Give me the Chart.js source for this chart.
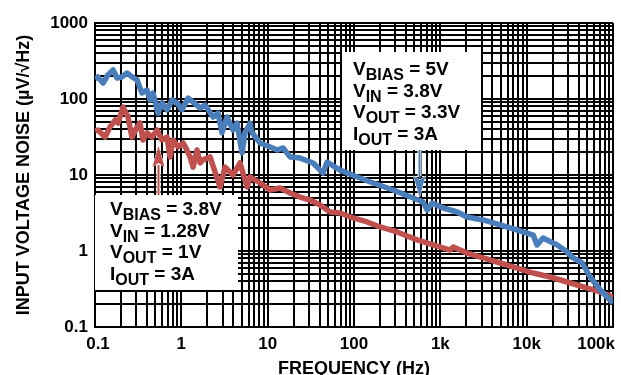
<!DOCTYPE html>
<html>
<head>
<meta charset="utf-8">
<script src="https://cdn.jsdelivr.net/npm/chart.js@4.4.1/dist/chart.umd.min.js"></script>
<style>
  html, body { margin: 0; padding: 0; background: #fff; }
</style>
</head>
<body>
<canvas id="noiseChart" width="621" height="375"></canvas>
<script>
// ── Data ───────────────────────────────────────────────────────
// VBIAS = 5V, VIN = 3.8V, VOUT = 3.3V (blue)
const blueFreq  = [0.1, 0.108, 0.124, 0.141, 0.162, 0.18, 0.206, 0.235, 0.268, 0.307,
                   0.35, 0.4, 0.434, 0.47, 0.537, 0.597, 0.683, 0.78, 0.892, 1.02,
                   1.2, 1.37, 1.65, 1.88, 2.33, 2.66, 2.96, 3.38, 3.97, 4.42,
                   5.05, 5.47, 6.25, 6.6, 8.17, 10.7, 12.9, 15.1, 18.2, 23.7,
                   33.6, 43.8, 48.8, 69, 109, 167, 284, 484, 632, 703,
                   804, 1080, 1570, 2040, 3130, 4930, 7760, 11900, 13200, 15500,
                   22600, 29500, 34600, 44000, 54400, 71100, 100000];
const blueNoise = [183, 195, 162, 207, 241, 189, 195, 220, 195, 178,
                   120, 131, 97, 120, 65, 89, 72, 97, 89, 72,
                   103, 91, 76, 83, 58, 65, 36, 58, 39, 48,
                   19.5, 36, 48, 36, 26.4, 23.4, 21.3, 22.7, 17.3, 16.7,
                   14.4, 10.6, 14.8, 11.6, 9.4, 7.85, 6.35, 4.98, 4.41, 3.46,
                   4.28, 3.68, 3.26, 2.8, 2.56, 2.2, 1.89, 1.62, 1.2, 1.48,
                   1.2, 0.97, 0.81, 0.695, 0.455, 0.307, 0.207];

// VBIAS = 3.8V, VIN = 1.28V, VOUT = 1V (red)
const redFreq   = [0.1, 0.108, 0.131, 0.149, 0.171, 0.185, 0.211, 0.241, 0.268, 0.307,
                   0.332, 0.36, 0.4, 0.458, 0.523, 0.597, 0.683, 0.74, 0.801, 0.916,
                   1.05, 1.16, 1.26, 1.37, 1.52, 1.65, 1.78, 2.15, 2.81, 3.21,
                   3.97, 4.79, 5.77, 6.25, 8.17, 10.7, 13.9, 18.2, 23.7, 31,
                   40.5, 52.9, 69, 97.6, 142, 201, 316, 538, 825, 1300,
                   1410, 2040, 3130, 4930, 7760, 11900, 18700, 29500, 45200, 71100,
                   100000];
const redNoise  = [37.9, 39.1, 31.6, 42.8, 52.9, 48.3, 78.5, 58, 31.6, 42.8,
                   48.3, 28.9, 35.7, 31.6, 39.1, 28.9, 31.6, 17.3, 28.9, 23.4,
                   26.4, 21.3, 17.3, 12.7, 21.3, 14.4, 15.8, 17.3, 6.95, 12.7,
                   10, 14.4, 6.95, 9.41, 7.85, 6.35, 6.74, 5.8, 5.13, 4.69,
                   4.03, 3.26, 3.16, 2.72, 2.41, 2.07, 1.78, 1.4, 1.2, 1.03,
                   1.13, 0.941, 0.809, 0.695, 0.597, 0.513, 0.455, 0.391, 0.336, 0.289,
                   0.248];

const xMajor      = [0.1, 1, 10, 100, 1000, 10000, 100000];
const xTickLabels = ['0.1', '1', '10', '100', '1k', '10k', '100k'];
const yMajor      = [0.1, 1, 10, 100, 1000];
const yTickLabels = ['0.1', '1', '10', '100', '1000'];

const BLUE = '#4a7ebb';
const RED  = '#c0504d';
const FONT = '"Liberation Sans", Arial, sans-serif';

Chart.defaults.font.family = FONT;
Chart.defaults.color = '#000';

// 1..9 grid lines per decade
const gridTicks = (majors) => {
    const out = [];
    majors.forEach((m, i) => {
        if (i === majors.length - 1) { out.push({ value: m }); return; }
        for (let k = 1; k <= 9; k++) out.push({ value: +(m * k).toPrecision(3) });
    });
    return out;
};

const sameVal = (a, b) => Math.abs(a - b) <= Math.abs(b) * 1e-6;

// ── Annotation boxes (white, over the grid) ─────────────────────
const notes = [
    { box: [342, 52, 481, 150], x: 353, y: 75,
      lines: [['V', 'BIAS', ' = 5V'], ['V', 'IN', ' = 3.8V'], ['V', 'OUT', ' = 3.3V'], ['I', 'OUT', ' = 3A']] },
    { box: [95, 195, 238, 290], x: 110, y: 215,
      lines: [['V', 'BIAS', ' = 3.8V'], ['V', 'IN', ' = 1.28V'], ['V', 'OUT', ' = 1V'], ['I', 'OUT', ' = 3A']] }
];
const arrows = [
    { x: 419.5, from: 150, tip: 197, head: 21, color: BLUE },
    { x: 158.5, from: 195, tip: 146, head: 21, color: RED }
];

const notesPlugin = {
    id: 'notes',
    beforeDatasetsDraw(chart) {
        const ctx = chart.ctx;
        ctx.save();
        notes.forEach(n => {
            const [x0, y0, x1, y1] = n.box;
            ctx.fillStyle = '#fff';
            ctx.fillRect(x0, y0, x1 - x0, y1 - y0);
            ctx.fillStyle = '#000';
            ctx.textBaseline = 'alphabetic';
            ctx.textAlign = 'left';
            n.lines.forEach((parts, i) => {
                const by = n.y + i * 21.5;
                let x = n.x;
                ctx.font = 'bold 19px ' + FONT;
                ctx.fillText(parts[0], x, by);
                x += ctx.measureText(parts[0]).width;
                ctx.font = 'bold 16px ' + FONT;
                ctx.fillText(parts[1], x, by + 5);
                x += ctx.measureText(parts[1]).width;
                ctx.font = 'bold 19px ' + FONT;
                ctx.fillText(parts[2], x, by);
            });
        });
        ctx.restore();
    },
    afterDatasetsDraw(chart) {
        const ctx = chart.ctx;
        ctx.save();
        arrows.forEach(a => {
            const dir = a.tip > a.from ? 1 : -1;
            const base = a.tip - dir * a.head;
            // shaft with white edges
            ctx.strokeStyle = '#fff';
            ctx.lineWidth = 4;
            ctx.beginPath(); ctx.moveTo(a.x, a.from); ctx.lineTo(a.x, base); ctx.stroke();
            ctx.strokeStyle = a.color;
            ctx.lineWidth = 2;
            ctx.beginPath(); ctx.moveTo(a.x, a.from); ctx.lineTo(a.x, base + dir * 2); ctx.stroke();
            // head
            ctx.beginPath();
            ctx.moveTo(a.x, a.tip);
            ctx.lineTo(a.x - 6, base);
            ctx.lineTo(a.x, base + dir * 4);
            ctx.lineTo(a.x + 6, base);
            ctx.closePath();
            ctx.fillStyle = a.color;
            ctx.strokeStyle = '#fff';
            ctx.lineWidth = 1;
            ctx.stroke();
            ctx.fill();
        });
        ctx.restore();
    },
    afterDraw(chart) {
        // x tick labels; last one kept inside the canvas
        const { ctx, chartArea, scales: { x } } = chart;
        ctx.save();
        ctx.font = 'bold 17px ' + FONT;
        ctx.fillStyle = '#000';
        ctx.textBaseline = 'middle';
        xMajor.forEach((v, i) => {
            let px = x.getPixelForValue(v);
            ctx.textAlign = 'center';
            if (i === 0) px += 3;
            if (i === xMajor.length - 1) { ctx.textAlign = 'right'; px = chartArea.right + 2; }
            ctx.fillText(xTickLabels[i], px, chartArea.bottom + 17);
        });
        ctx.restore();
    }
};

const toPoints = (xs, ys) => xs.map((f, i) => ({ x: f, y: ys[i] }));

new Chart(document.getElementById('noiseChart'), {
    type: 'line',
    data: {
        datasets: [
            { data: toPoints(blueFreq, blueNoise), borderColor: BLUE, borderWidth: 5.5 },
            { data: toPoints(redFreq, redNoise),  borderColor: RED,  borderWidth: 5.5 }
        ]
    },
    options: {
        responsive: false,
        animation: false,
        layout: { padding: { top: 23, right: 8, left: 0, bottom: 0 } },
        elements: {
            point: { radius: 0 },
            line: { tension: 0, fill: false, borderJoinStyle: 'round' }
        },
        plugins: { legend: { display: false }, tooltip: { enabled: false } },
        scales: {
            x: {
                type: 'logarithmic',
                min: 0.1, max: 100000,
                afterBuildTicks: s => { s.ticks = gridTicks(xMajor); },
                afterFit: s => { s.height = 48; s.paddingLeft = 0; s.paddingRight = 0; },
                grid: { color: '#000', lineWidth: 2, drawTicks: false },
                border: { color: '#000', width: 2 },
                ticks: { display: false },
                title: {
                    display: true, text: 'FREQUENCY (Hz)',
                    font: { size: 18, weight: 'bold' }, padding: { top: 0, bottom: -5 }
                }
            },
            y: {
                type: 'logarithmic',
                min: 0.1, max: 1000,
                afterBuildTicks: s => { s.ticks = gridTicks(yMajor); },
                afterFit: s => { s.width = 95; },
                grid: { color: '#000', lineWidth: 2, drawTicks: false },
                border: { color: '#000', width: 2 },
                ticks: {
                    autoSkip: false,
                    padding: 7,
                    font: { size: 17, weight: 'bold' },
                    callback: (value) => {
                        const i = yMajor.findIndex(m => sameVal(value, m));
                        return i >= 0 ? yTickLabels[i] : '';
                    }
                },
                title: {
                    display: true, text: 'INPUT VOLTAGE NOISE (µV/√Hz)',
                    font: { size: 18, weight: 'bold' }, padding: { top: 13, bottom: 0 }
                }
            }
        }
    },
    plugins: [notesPlugin]
});
</script>
</body>
</html>
